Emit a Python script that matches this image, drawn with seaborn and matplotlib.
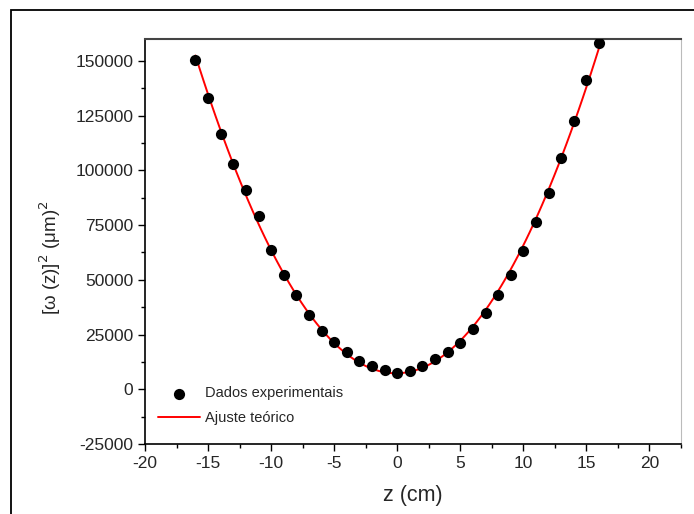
import numpy as np
import pandas as pd
import seaborn as sns
import matplotlib.pyplot as plt
from matplotlib.patches import Rectangle
from matplotlib.ticker import MultipleLocator

# values
z_cm = [-16, -15, -14, -13, -12, -11, -10, -9, -8, -7, -6, -5, -4, -3, -2, -1,
        0, 1, 2, 3, 4, 5, 6, 7, 8, 9, 10, 11, 12, 13, 14, 15, 16]
w2_um2 = [150500, 133200, 116600, 103000, 90900, 79000, 63700, 52400, 43000,
          33700, 26700, 21600, 17100, 13100, 10800, 8700, 7600, 8500, 10700,
          13700, 17200, 21300, 27700, 34800, 43100, 52400, 63300, 76400,
          89500, 105500, 122400, 141300, 158400]
x_ticks = [-20, -15, -10, -5, 0, 5, 10, 15, 20]
y_ticks = [-25000, 0, 25000, 50000, 75000, 100000, 125000, 150000]

df = pd.DataFrame({"z": z_cm, "w2": w2_um2})

sns.set_style("white")
plt.rcParams["font.family"] = ["Liberation Sans", "DejaVu Sans"]
plt.rcParams["axes.unicode_minus"] = False

fig = plt.figure(figsize=(6.94, 5.14), dpi=100)
ax = fig.add_axes([145 / 694, 1 - 444 / 514, 536 / 694, 405 / 514])

# quadratic fit of the beam width (seaborn computes it from the data)
sns.regplot(x="z", y="w2", data=df, order=2, ci=None, scatter=False,
            color="red", line_kws={"lw": 1.4}, label="Ajuste teórico", ax=ax)
sns.scatterplot(x="z", y="w2", data=df, color="black", s=65,
                edgecolor="black", linewidth=0, label="Dados experimentais",
                ax=ax, zorder=3)

ax.set_xlim(-20, 22.5)
ax.set_ylim(-25000, 160000)
ax.set_xticks(x_ticks)
ax.set_yticks(y_ticks)
ax.xaxis.set_minor_locator(MultipleLocator(2.5))
ax.yaxis.set_minor_locator(MultipleLocator(12500))
ax.tick_params(which="major", direction="out", length=5, width=1,
               labelsize=12.5, bottom=True, left=True, color="black")
ax.tick_params(which="minor", direction="out", length=3, width=1,
               bottom=True, left=True, color="black")

for side in ["left", "bottom"]:
    ax.spines[side].set_color("black")
    ax.spines[side].set_linewidth(1.2)
ax.spines["top"].set_color("#444444")
ax.spines["top"].set_linewidth(1.5)
ax.spines["right"].set_color("#bbbbbb")

ax.set_xlabel("z (cm)", fontsize=15.5, labelpad=10)
ax.set_ylabel(r"[ω (z)]$^2$ (μm)$^2$", fontsize=13.5)
ax.yaxis.set_label_coords(-0.153, 0.46)

handles, labels = ax.get_legend_handles_labels()
order = [labels.index("Dados experimentais"), labels.index("Ajuste teórico")]
ax.legend([handles[i] for i in order], [labels[i] for i in order],
          loc="upper left", bbox_to_anchor=(0.024, 0.142), frameon=False,
          fontsize=10.5, borderpad=0, borderaxespad=0, handlelength=2.9,
          handletextpad=0.35, labelspacing=0.75)

# outer frame of the original image
fig.patches.append(Rectangle((11 / 694, -0.2), 1.2, 1.2 - 9.5 / 514,
                             transform=fig.transFigure, fill=False,
                             edgecolor="black", linewidth=1.3))

fig.savefig("out.png", dpi=100)
